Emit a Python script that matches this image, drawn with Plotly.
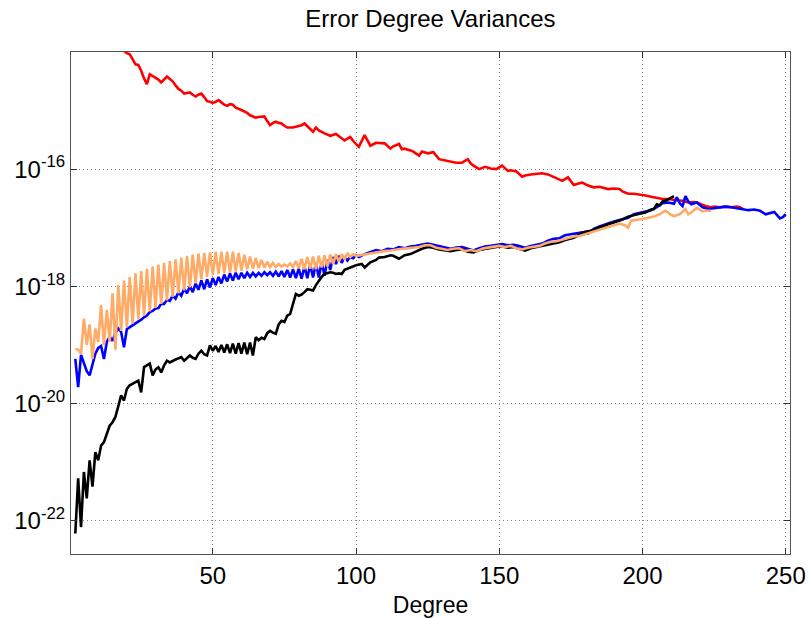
import plotly.graph_objects as go

# ---- data: degrees and log10 of error degree variances ----
deg_lo = list(range(2, 101))

blue_lo = [-19.24, -19.72, -19.17, -19.30, -19.45, -19.52, -19.32, -19.15, -19.05, -19.02,
           -19.24, -18.95, -18.86, -18.93, -18.80, -18.72, -18.78, -19.04, -18.73, -18.70,
           -18.67, -18.64, -18.60, -18.57, -18.53, -18.50, -18.44, -18.42, -18.38, -18.37,
           -18.30, -18.30, -18.23, -18.25, -18.16, -18.21, -18.10, -18.16, -18.04, -18.12,
           -18.00, -18.10, -17.95, -18.06, -17.90, -18.05, -17.88, -18.02, -17.86, -17.98,
           -17.84, -17.95, -17.80, -17.92, -17.78, -17.90, -17.77, -17.88, -17.77, -17.86,
           -17.77, -17.84, -17.77, -17.83, -17.77, -17.82, -17.76, -17.81, -17.76, -17.82,
           -17.75, -17.83, -17.74, -17.84, -17.72, -17.85, -17.71, -17.86, -17.70, -17.87,
           -17.66, -17.86, -17.63, -17.85, -17.60, -17.85, -17.59, -17.82, -17.55, -17.72,
           -17.50, -17.62, -17.48, -17.60, -17.49, -17.56, -17.50, -17.52, -17.47]
blue_hi_deg = [101, 103, 105, 107, 109, 111, 113, 115, 117, 119, 121, 123, 125, 127, 129, 131,
               133, 135, 137, 139, 141, 143, 145, 147, 149, 151, 153, 155, 157, 159, 161, 163,
               165, 167, 169, 171, 173, 175, 177, 179, 181, 183, 185, 187, 189, 191, 193, 195,
               197, 199, 201, 203, 205, 207, 209, 211, 212, 213, 214, 215, 216, 217, 219, 221,
               223, 225, 227, 229, 231, 233, 235, 237, 239, 241, 243, 245, 246, 248, 249, 250]
blue_hi = [-17.50, -17.45, -17.42, -17.38, -17.40, -17.36, -17.37, -17.33, -17.35, -17.32,
           -17.31, -17.29, -17.27, -17.29, -17.31, -17.33, -17.36, -17.34, -17.33, -17.36,
           -17.39, -17.35, -17.32, -17.31, -17.29, -17.28, -17.30, -17.29, -17.31, -17.34,
           -17.31, -17.29, -17.27, -17.22, -17.19, -17.18, -17.13, -17.11, -17.09, -17.08,
           -17.10, -17.02, -16.98, -16.94, -16.91, -16.88, -16.86, -16.83, -16.77, -16.75,
           -16.73, -16.70, -16.65, -16.58, -16.57, -16.59, -16.48, -16.58, -16.63, -16.46,
           -16.55, -16.60, -16.57, -16.65, -16.68, -16.67, -16.66, -16.64, -16.65, -16.67,
           -16.68, -16.70, -16.69, -16.71, -16.77, -16.74, -16.73, -16.84, -16.82, -16.77]

orange_lo = [-19.07, -19.08, -19.15, -18.55, -19.00, -18.65, -19.24, -18.72, -18.95, -18.32,
             -19.00, -18.40, -18.95, -18.12, -19.08, -17.98, -18.76, -17.90, -18.70, -17.84,
             -18.64, -17.78, -18.56, -17.74, -18.50, -17.70, -18.43, -17.66, -18.37, -17.63,
             -18.30, -17.60, -18.24, -17.57, -18.18, -17.54, -18.12, -17.51, -18.07, -17.48,
             -18.02, -17.46, -17.95, -17.44, -17.88, -17.43, -17.84, -17.42, -17.81, -17.41,
             -17.79, -17.41, -17.78, -17.41, -17.77, -17.41, -17.75, -17.43, -17.73, -17.46,
             -17.71, -17.49, -17.70, -17.52, -17.69, -17.55, -17.68, -17.58, -17.67, -17.60,
             -17.67, -17.62, -17.66, -17.63, -17.66, -17.61, -17.67, -17.57, -17.69, -17.53,
             -17.71, -17.50, -17.70, -17.49, -17.71, -17.48, -17.68, -17.47, -17.66, -17.46,
             -17.62, -17.45, -17.58, -17.45, -17.54, -17.43, -17.50, -17.45, -17.48]
orange_hi_deg = [102, 104, 106, 108, 110, 112, 114, 116, 118, 120, 122, 124, 126, 128, 130,
                 132, 134, 136, 138, 140, 142, 144, 146, 148, 150, 152, 154, 156, 158, 160,
                 162, 164, 166, 168, 170, 172, 174, 176, 178, 180, 182, 184, 186, 188, 190,
                 192, 194, 195, 196, 198, 200, 202, 204, 206, 208, 210, 211, 213, 215, 216,
                 217, 219, 221, 222, 224]
orange_hi = [-17.47, -17.45, -17.43, -17.41, -17.40, -17.39, -17.37, -17.36, -17.35, -17.34,
             -17.33, -17.30, -17.30, -17.34, -17.36, -17.38, -17.36, -17.35, -17.40, -17.38,
             -17.40, -17.36, -17.34, -17.33, -17.31, -17.33, -17.31, -17.35, -17.37, -17.34,
             -17.33, -17.31, -17.27, -17.24, -17.23, -17.20, -17.17, -17.15, -17.14, -17.11,
             -17.08, -17.05, -17.03, -17.00, -16.97, -16.93, -16.96, -17.00, -16.88, -16.87,
             -16.85, -16.83, -16.81, -16.77, -16.71, -16.78, -16.80, -16.77, -16.68, -16.77,
             -16.74, -16.66, -16.72, -16.71, -16.71]

black_lo = [-22.22, -21.28, -22.11, -21.17, -21.62, -20.97, -21.42, -20.83, -20.97, -20.72,
            -20.66, -20.52, -20.38, -20.32, -20.23, -20.05, -19.86, -19.95, -19.75, -19.69,
            -19.66, -19.64, -19.61, -19.81, -19.38, -19.35, -19.32, -19.52, -19.42, -19.38,
            -19.47, -19.35, -19.27, -19.30, -19.27, -19.25, -19.23, -19.21, -19.27, -19.22,
            -19.18, -19.22, -19.24, -19.15, -19.10, -19.16, -19.18, -19.01, -19.10, -19.02,
            -19.12, -19.00, -19.13, -18.99, -19.14, -18.98, -19.15, -18.97, -19.15, -18.96,
            -19.16, -18.96, -19.18, -18.87, -18.92, -18.88, -18.90, -18.80, -18.76, -18.79,
            -18.81, -18.65, -18.59, -18.61, -18.50, -18.47, -18.30, -18.13, -18.16, -18.14,
            -18.10, -18.05, -18.06, -18.07, -17.98, -17.90, -17.84, -17.79, -17.77, -17.76,
            -17.77, -17.79, -17.78, -17.79, -17.72, -17.70, -17.68, -17.67, -17.64]
black_hi_deg = [102, 103, 105, 107, 108, 110, 112, 113, 115, 117, 119, 121, 123, 125, 127, 129,
                131, 133, 135, 137, 139, 141, 143, 145, 147, 149, 151, 153, 155, 157, 159, 161,
                163, 165, 167, 169, 171, 173, 176, 178, 180, 182, 184, 186, 188, 190, 192, 193,
                195, 197, 199, 201, 203, 204, 205, 206, 207, 208, 209, 210, 211]
black_hi = [-17.62, -17.68, -17.59, -17.55, -17.51, -17.50, -17.47, -17.48, -17.53, -17.47,
            -17.45, -17.40, -17.36, -17.33, -17.34, -17.37, -17.39, -17.40, -17.38, -17.37,
            -17.41, -17.42, -17.38, -17.36, -17.34, -17.33, -17.32, -17.34, -17.33, -17.36,
            -17.39, -17.35, -17.33, -17.31, -17.28, -17.26, -17.25, -17.21, -17.17, -17.12,
            -17.07, -17.05, -17.01, -16.97, -16.94, -16.91, -16.88, -16.86, -16.81, -16.78,
            -16.76, -16.74, -16.69, -16.68, -16.60, -16.62, -16.55, -16.54, -16.51, -16.48,
            -16.46]

red_deg = [17, 19, 20, 21, 22, 23, 24, 25, 26, 27, 28, 29, 30, 31, 32, 33, 34, 35, 36, 37, 38,
           39, 40, 41, 42, 43, 44, 45, 46, 47, 48, 49, 50, 51, 52, 53, 54, 55, 56, 57, 58, 60,
           62, 63, 65, 66, 68, 69, 70, 71, 72, 73, 74, 75, 76, 78, 79, 81, 82, 83, 84, 85, 86,
           87, 89, 91, 93, 94, 96, 98, 99, 101, 103, 105, 106, 107, 110, 111, 112, 113, 115,
           116, 117, 119, 120, 122, 123, 125, 127, 129, 130, 132, 133, 135, 137, 139, 140, 141,
           143, 145, 147, 149, 151, 153, 154, 156, 158, 159, 161, 163, 165, 167, 168, 170, 172,
           174, 175, 176, 178, 179, 181, 183, 185, 186, 188, 190, 192, 193, 195, 197, 199, 201,
           203, 205, 207, 209, 210, 212, 214, 216, 218, 219, 221, 222, 224, 225, 227, 229, 231,
           233, 234, 235]
red_val = [-13.80, -13.98, -14.02, -14.04, -14.12, -14.21, -14.22, -14.32, -14.45, -14.55,
           -14.38, -14.41, -14.44, -14.47, -14.52, -14.47, -14.42, -14.46, -14.50, -14.57,
           -14.63, -14.66, -14.71, -14.70, -14.69, -14.73, -14.76, -14.73, -14.71, -14.77,
           -14.84, -14.85, -14.87, -14.85, -14.82, -14.86, -14.90, -14.92, -14.89, -14.90,
           -14.95, -14.99, -15.04, -15.08, -15.12, -15.11, -15.10, -15.18, -15.25, -15.21,
           -15.19, -15.21, -15.22, -15.26, -15.29, -15.29, -15.28, -15.25, -15.22, -15.27,
           -15.32, -15.36, -15.29, -15.34, -15.39, -15.43, -15.40, -15.44, -15.51, -15.45,
           -15.52, -15.62, -15.42, -15.60, -15.57, -15.55, -15.56, -15.60, -15.65, -15.61,
           -15.57, -15.66, -15.65, -15.68, -15.70, -15.77, -15.70, -15.73, -15.71, -15.83,
           -15.84, -15.86, -15.86, -15.89, -15.89, -15.83, -15.90, -15.94, -16.00, -15.96,
           -15.99, -16.00, -15.94, -16.03, -16.02, -16.04, -16.13, -16.11, -16.09, -16.08,
           -16.07, -16.09, -16.11, -16.15, -16.20, -16.14, -16.20, -16.27, -16.24, -16.23,
           -16.28, -16.31, -16.30, -16.31, -16.34, -16.33, -16.34, -16.38, -16.42, -16.42,
           -16.43, -16.45, -16.47, -16.49, -16.51, -16.51, -16.52, -16.53, -16.54, -16.57,
           -16.56, -16.57, -16.61, -16.63, -16.65, -16.64, -16.65, -16.64, -16.65, -16.64,
           -16.65, -16.68]

x_ticks = [50, 100, 150, 200, 250]
y_exps = [-22, -20, -18, -16]

# ---- figure ----
def series(degs, exps, color):
    return go.Scatter(x=degs, y=[10 ** e for e in exps], mode="lines",
                      line=dict(color=color, width=2.6), showlegend=False,
                      hoverinfo="skip")

fig = go.Figure()
fig.add_trace(series(red_deg, red_val, "#ff0000"))
fig.add_trace(series(deg_lo + blue_hi_deg, blue_lo + blue_hi, "#0000ff"))
fig.add_trace(series(deg_lo + black_hi_deg, black_lo + black_hi, "#000000"))
fig.add_trace(series(deg_lo + orange_hi_deg, orange_lo + orange_hi, "#ffaa66"))

font_family = "Liberation Sans, Arial, Helvetica, sans-serif"
fig.update_layout(
    width=809, height=618,
    margin=dict(l=71, r=19, t=52, b=64),
    paper_bgcolor="white", plot_bgcolor="white",
    font=dict(family=font_family, color="black"),
    title=dict(text="Error Degree Variances", x=0.532, xanchor="center",
               y=0.984, yanchor="top", automargin=False,
               font=dict(size=24, family=font_family)),
)
fig.update_xaxes(
    range=[0.5, 251.5], tickvals=x_ticks, ticktext=[str(v) for v in x_ticks],
    tickfont=dict(size=24), ticks="inside", ticklen=6, tickcolor="#333",
    showline=True, linecolor="#555", linewidth=1, mirror="ticks",
    showgrid=True, gridcolor="#808080", griddash="1px,3px", gridwidth=1,
    zeroline=False, automargin=False,
    title=dict(text="Degree", font=dict(size=23), standoff=9),
)
fig.update_yaxes(
    type="log", range=[-22.57, -14.0],
    tickvals=[10 ** e for e in y_exps],
    ticktext=["10<sup>%d</sup>" % e for e in y_exps],
    tickfont=dict(size=24), ticks="inside", ticklen=6, tickcolor="#333",
    showline=True, linecolor="#555", linewidth=1, mirror="ticks",
    showgrid=True, gridcolor="#808080", griddash="1px,3px", gridwidth=1,
    zeroline=False, automargin=False,
)

fig.write_html("out.html", config={"displayModeBar": False},
               post_script="document.body.style.margin='0';")
